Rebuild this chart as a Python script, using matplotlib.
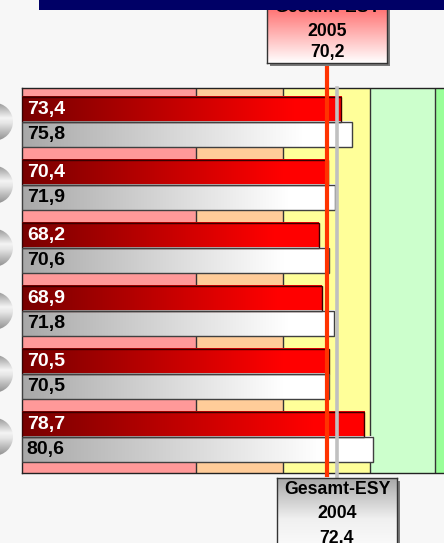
import numpy as np
import matplotlib
matplotlib.use('Agg')
import matplotlib.pyplot as plt
from matplotlib.colors import LinearSegmentedColormap
from matplotlib.patches import Rectangle, Ellipse

# values per row: 2005 (red) and 2004 (grey)
vals_2005 = [73.4, 70.4, 68.2, 68.9, 70.5, 78.7]
vals_2004 = [75.8, 71.9, 70.6, 71.8, 70.5, 80.6]
labels_2005 = ['73,4', '70,4', '68,2', '68,9', '70,5', '78,7']
labels_2004 = ['75,8', '71,9', '70,6', '71,8', '70,5', '80,6']

# background bands
band_edges = [0, 40, 60, 80, 95, 100]
band_colors = ['#ff9999', '#ffcc99', '#ffff99', '#ccffcc', '#99ff99']

# overall reference lines
total_2005 = 70.2
total_2004 = 72.4
box_2005 = ['Gesamt-ESY', '2005', '70,2']
box_2004 = ['Gesamt-ESY', '2004', '72,4']

W, H = 444, 543
fig = plt.figure(figsize=(W / 100, H / 100), dpi=100)
fig.patch.set_facecolor('#f7f7f7')
font = 'Liberation Sans'

# main axes (pixel layout of the original)
ax = fig.add_axes([22 / W, 70.3 / H, 435 / W, 385 / H])
ax.set_zorder(1)

for i in range(len(band_colors)):
    ax.axvspan(band_edges[i], band_edges[i + 1], color=band_colors[i], zorder=0, lw=0)
for e in band_edges[1:-1]:
    ax.axvline(e, color='#333333', lw=1, zorder=1)

red_cmap = LinearSegmentedColormap.from_list('r', [(0, '#780000'), (0.85, '#ff0000'), (1, '#ff0000')])
grey_cmap = LinearSegmentedColormap.from_list('g', [(0, '#a8a8a8'), (0.85, '#ffffff'), (1, '#ffffff')])
grad = np.linspace(0, 1, 256).reshape(1, -1)

bh = 0.4
for i, (v5, v4) in enumerate(zip(vals_2005, vals_2004)):
    ax.imshow(grad, extent=(0, v5, i, i - bh), aspect='auto', cmap=red_cmap, zorder=3,
              interpolation='bilinear')
    ax.imshow(grad, extent=(0, v4, i + bh, i), aspect='auto', cmap=grey_cmap, zorder=3,
              interpolation='bilinear')
ys = np.arange(len(vals_2005))
ax.barh(ys - bh / 2, vals_2005, height=bh, fill=False, edgecolor='#3a0000', lw=1, zorder=4)
ax.barh(ys + bh / 2, vals_2004, height=bh, fill=False, edgecolor='#404040', lw=1, zorder=4)

for i in range(len(vals_2005)):
    ax.text(1.1, i - bh / 2, labels_2005[i], color='white', fontsize=14, fontweight='bold',
            family=font, va='center', ha='left', zorder=6)
    ax.text(1.1, i + bh / 2, labels_2004[i], color='black', fontsize=14, fontweight='bold',
            family=font, va='center', ha='left', zorder=6)

# reference lines
ax.axvline(total_2005, ymin=-0.006, ymax=1.07, color='#ff3300', lw=3, zorder=7, clip_on=False)
ax.axvline(total_2004, ymin=-0.02, ymax=1.0, color='#c0c0c0', lw=2.6, zorder=7, clip_on=False)

ax.set_xlim(0, 100)
ax.set_ylim(5.57, -0.54)
ax.set_xticks([])
ax.set_yticks([])
for s in ax.spines.values():
    s.set_color('#222222')
    s.set_linewidth(1)

# grey spheres in the left margin (x in pixels, y shared with the rows)
sax = fig.add_axes([-30 / W, 70.3 / H, 52 / W, 385 / H])
sax.set_xlim(-30, 22)
sax.set_ylim(ax.get_ylim())
sax.axis('off')
sphere_cmap = LinearSegmentedColormap.from_list(
    's', [(0, '#8e8e8e'), (0.42, '#f4f4f4'), (0.55, '#e6e6e6'), (1, '#8e8e8e')])
for y in ys:
    circ = Ellipse((-6, y), 38, 38 / 63, transform=sax.transData, facecolor='none', lw=0)
    sax.add_patch(circ)
    im = sax.imshow(np.linspace(0, 1, 128).reshape(-1, 1), extent=(-25, 13, y + 0.31, y - 0.31),
                    aspect='auto', cmap=sphere_cmap, interpolation='bilinear')
    im.set_clip_path(circ)
sax.set_xlim(-30, 22)
sax.set_ylim(ax.get_ylim())

fig.canvas.draw()


def label_box(xval, top, bottom, lines, line_y, colors):
    xc = ax.transData.transform((xval, 0))[0]
    bw = 120
    left = xc - bw / 2
    # shadow
    fig.add_artist(Rectangle(((left + 3) / W, (H - bottom - 3) / H), bw / W, (bottom - top) / H,
                             transform=fig.transFigure, color='#7a7a7a', lw=0, zorder=1.5))
    bax = fig.add_axes([left / W, (H - bottom) / H, bw / W, (bottom - top) / H])
    bax.set_zorder(2)
    cm = LinearSegmentedColormap.from_list('b', colors)
    bax.imshow(np.linspace(0, 1, 256).reshape(-1, 1), extent=(0, 1, 0, 1), aspect='auto',
               cmap=cm, interpolation='bilinear')
    bax.set_xlim(0, 1)
    bax.set_ylim(0, 1)
    bax.set_xticks([])
    bax.set_yticks([])
    for s in bax.spines.values():
        s.set_color('#333333')
        s.set_linewidth(1)
    for txt, yy in zip(lines, line_y):
        bax.text(0.5, (bottom - yy) / (bottom - top), txt, ha='center', va='center',
                 fontsize=12.7, fontweight='bold', family=font, color='black')


label_box(total_2005, -6, 63, box_2005, [7, 31, 53], ['#ff4d4d', '#ffffff'])
label_box(total_2004, 478, 560, box_2004, [490, 514, 538], ['#a8a8a8', '#f0f0f0', '#ffffff'])

# navy title strip at the very top
fig.add_artist(Rectangle((39 / W, (H - 10) / H), (W - 39) / W, 10 / H,
                         transform=fig.transFigure, color='#000066', lw=0, zorder=10))

plt.savefig('out.png', dpi=100, facecolor=fig.get_facecolor())
